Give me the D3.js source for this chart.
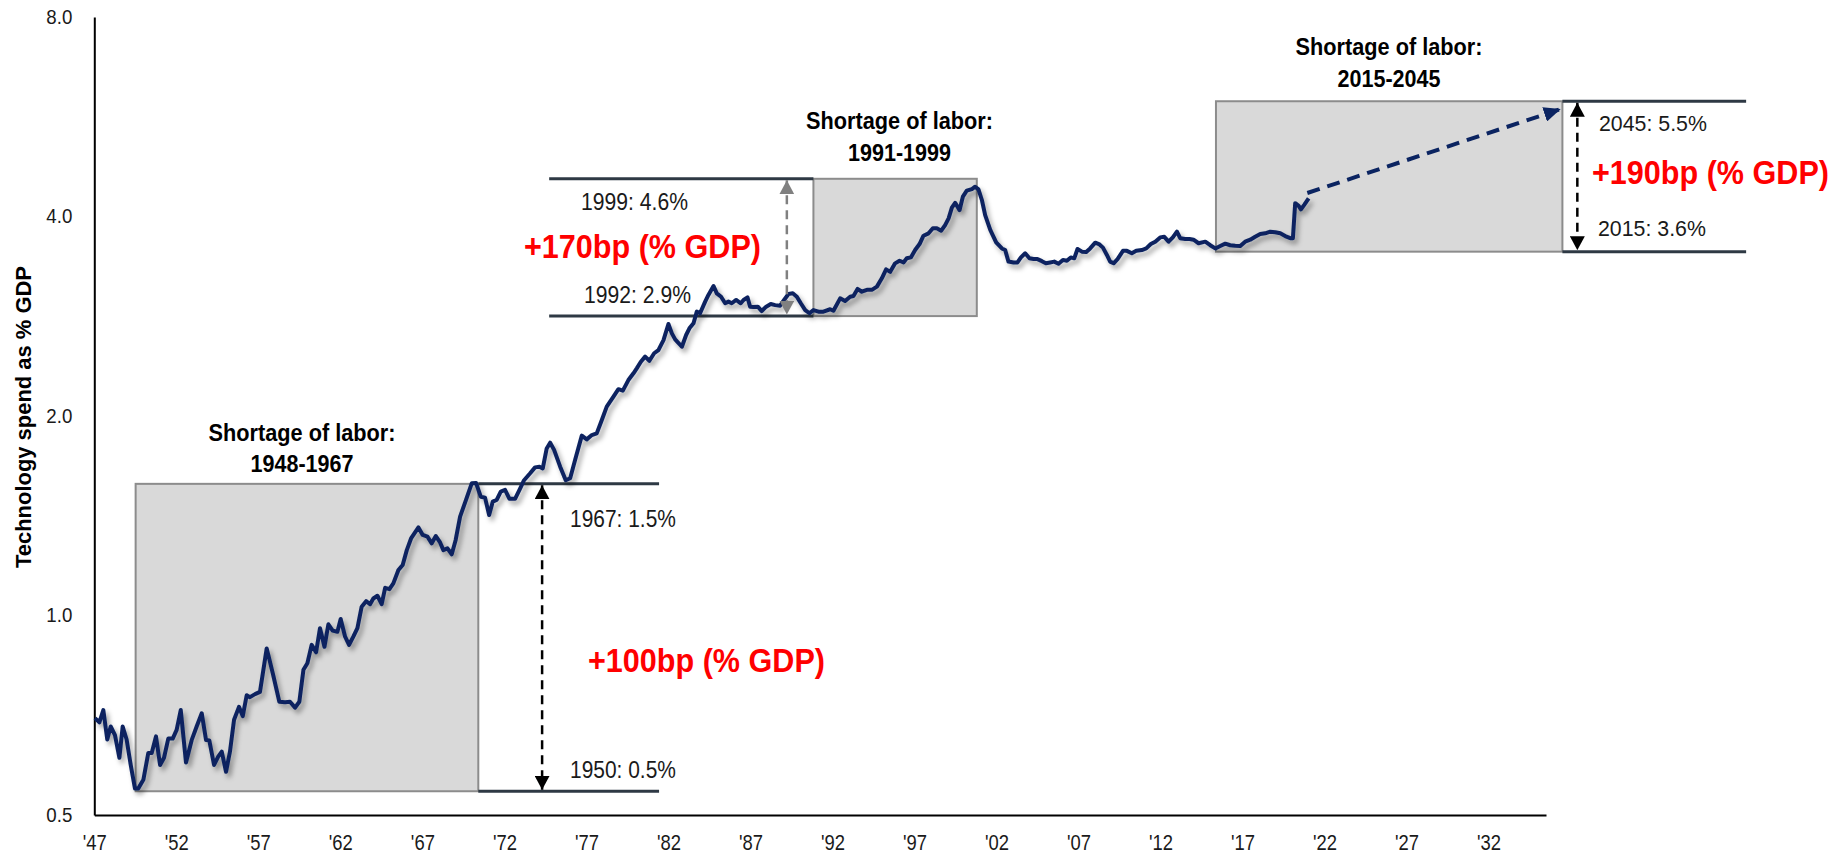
<!DOCTYPE html>
<html><head><meta charset="utf-8">
<script src="https://cdn.jsdelivr.net/npm/d3@7"></script>
<style>
html,body{margin:0;padding:0;background:#fff;}
svg{display:block;font-family:"Liberation Sans", Arial, sans-serif;}
</style></head><body>
<svg id="chart" width="1844" height="856"></svg>
<script>
// ---------------- DATA ----------------
const years = [
1947.04,1947.31,1947.55,1947.79,1948.00,1948.26,1948.53,1948.73,1948.97,1949.22,1949.48,1949.68,1949.99,
1950.29,1950.50,1950.76,1951.01,1951.25,1951.51,1951.78,1952.02,1952.27,1952.59,1952.94,1953.24,1953.55,
1953.81,1954.01,1954.30,1954.56,1954.77,1955.03,1955.27,1955.52,1955.82,1956.05,1956.29,1956.49,1956.80,
1957.10,1957.51,1957.88,1958.28,1958.63,1958.93,1959.24,1959.50,1959.75,1959.99,1960.25,1960.52,1960.76,
1961.03,1961.27,1961.53,1961.82,1962.02,1962.29,1962.53,1962.79,1963.04,1963.30,1963.57,1963.81,1964.01,
1964.26,1964.52,1964.73,1964.99,1965.23,1965.54,1965.80,1966.05,1966.31,1966.76,1967.02,1967.31,1967.57,
1967.82,1968.08,1968.28,1968.53,1968.79,1969.03,1969.30,1969.66,1970.01,1970.27,1970.56,1970.82,1971.07,
1971.29,1971.53,1971.78,1972.04,1972.31,1972.65,1972.92,1973.20,1973.57,1973.87,1974.14,1974.34,1974.58,
1974.79,1975.03,1975.40,1975.74,1976.01,1976.31,1976.72,1977.02,1977.33,1977.63,1977.94,1978.24,1978.65,
1978.95,1979.22,1979.56,1979.87,1980.07,1980.32,1980.58,1980.84,1981.13,1981.39,1981.70,1982.00,1982.21,
1982.41,1982.82,1983.08,1983.28,1983.53,1983.73,1983.93,1984.24,1984.44,1984.75,1984.95,1985.21,1985.46,
1985.66,1985.86,1986.13,1986.41,1986.58,1986.82,1986.98,1987.18,1987.45,1987.69,1987.96,1988.24,1988.51,
1988.81,1989.05,1989.32,1989.58,1989.83,1990.07,1990.34,1990.60,1990.84,1991.15,1991.45,1991.86,1992.06,
1992.47,1992.77,1993.08,1993.28,1993.53,1993.79,1994.10,1994.40,1994.71,1995.01,1995.27,1995.52,1995.82,
1996.09,1996.33,1996.53,1996.78,1997.04,1997.31,1997.55,1997.86,1998.12,1998.36,1998.63,1998.87,1999.08,
1999.28,1999.48,1999.75,1999.95,2000.19,2000.50,2000.70,2000.90,2001.11,2001.31,2001.62,2001.98,2002.33,
2002.53,2002.73,2003.04,2003.28,2003.49,2003.75,2004.01,2004.26,2004.50,2004.77,2005.01,2005.27,2005.52,
2005.78,2006.05,2006.29,2006.53,2006.74,2006.94,2007.21,2007.47,2007.71,2008.02,2008.28,2008.49,2008.73,
2008.93,2009.14,2009.38,2009.71,2009.95,2010.25,2010.52,2010.86,2011.13,2011.41,2011.68,2011.98,2012.23,
2012.49,2012.75,2013.00,2013.20,2013.51,2013.77,2014.01,2014.32,2014.73,2015.03,2015.34,2015.64,2015.95,
2016.25,2016.55,2016.86,2017.16,2017.47,2017.77,2018.08,2018.38,2018.69,2018.99,2019.30,2019.60,2019.91,
2020.07,2020.21,2020.42,2020.56,2020.76,2021.03
];
const values = [
0.70,0.69,0.72,0.65,0.68,0.66,0.61,0.68,0.65,0.595,0.548,0.548,0.565,
0.62,0.62,0.657,0.595,0.61,0.652,0.652,0.672,0.72,0.60,0.649,0.68,0.712,
0.649,0.648,0.595,0.613,0.623,0.581,0.623,0.696,0.728,0.705,0.758,0.753,0.761,
0.767,0.892,0.818,0.741,0.740,0.741,0.726,0.741,0.828,0.847,0.903,0.88,0.957,
0.897,0.97,0.949,0.945,0.988,0.929,0.903,0.929,0.957,1.031,1.051,1.04,1.061,
1.071,1.04,1.101,1.096,1.118,1.171,1.192,1.255,1.307,1.358,1.323,1.315,1.285,
1.318,1.289,1.255,1.263,1.237,1.30,1.41,1.494,1.583,1.585,1.511,1.506,1.418,
1.485,1.494,1.538,1.547,1.50,1.50,1.547,1.60,1.639,1.673,1.677,1.667,1.787,
1.823,1.778,1.677,1.60,1.611,1.716,1.868,1.844,1.872,1.883,1.972,2.066,2.139,
2.195,2.184,2.266,2.32,2.36,2.415,2.458,2.423,2.487,2.515,2.604,2.753,2.665,
2.61,2.544,2.65,2.712,2.76,2.874,2.858,2.976,3.046,3.142,3.063,3.027,2.959,
2.976,2.959,2.993,2.959,2.993,3.02,2.924,2.92,2.924,2.88,2.924,2.951,2.94,
2.934,2.993,3.056,3.063,3.027,2.959,2.89,2.858,2.89,2.874,2.874,2.898,2.883,
3.01,2.982,3.027,3.035,3.11,3.08,3.10,3.10,3.135,3.227,3.329,3.30,3.399,
3.43,3.41,3.459,3.47,3.56,3.635,3.742,3.773,3.839,3.839,3.807,3.883,3.975,
4.124,4.195,4.09,4.285,4.376,4.40,4.436,4.395,4.236,4.02,3.817,3.657,3.58,
3.56,3.42,3.41,3.41,3.47,3.52,3.459,3.45,3.45,3.425,3.40,3.41,3.42,
3.395,3.44,3.43,3.47,3.459,3.573,3.54,3.535,3.58,3.652,3.63,3.59,3.50,
3.42,3.40,3.45,3.55,3.55,3.52,3.55,3.56,3.58,3.635,3.665,3.72,3.727,
3.665,3.72,3.795,3.71,3.70,3.70,3.69,3.645,3.665,3.62,3.58,3.61,3.64,
3.62,3.613,3.61,3.665,3.69,3.727,3.763,3.773,3.795,3.787,3.773,3.737,3.71,
3.71,4.19,4.15,4.10,4.165,4.26
];
const projYears = [2020.95, 2036.4];
const projValues = [4.34, 5.81];
const xTickYears = [1947,1952,1957,1962,1967,1972,1977,1982,1987,1992,1997,2002,2007,2012,2017,2022,2027,2032];
const yTickValues = [0.5, 1, 2, 4, 8];
const yTickLabels = ["0.5", "1.0", "2.0", "4.0", "8.0"];

// shortage-of-labor periods (x in years, y in % GDP)
const boxes = [
  {x0: 1949.52, x1: 1970.41, v0: 0.543, v1: 1.58, title: "1948-1967"},
  {x0: 1990.84, x1: 2000.80, v0: 2.83, v1: 4.56, title: "1991-1999"},
  {x0: 2015.38, x1: 2036.5, v0: 3.54, v1: 5.97, title: "2015-2045"}
];
const brackets = [
  {x0: 1970.41, x1: 1981.43, v0: 0.543, v1: 1.58, ax: 1974.30, color: "#000"},
  {x0: 1974.73, x1: 1990.84, v0: 2.83, v1: 4.56, ax: 1989.22, color: "#808080"},
  {x0: 2036.5, x1: 2047.7, v0: 3.54, v1: 5.97, ax: 2037.41, color: "#000"}
];

// ---------------- CHART ----------------
const svg = d3.select("#chart");
const x = d3.scaleLinear().domain([1947, 2035.5]).range([94.3, 1546]);
const y = d3.scaleLog().domain([0.5, 8]).range([815, 17]);

const defs = svg.append("defs");
const f = defs.append("filter").attr("id","shadow").attr("x","-5%").attr("y","-5%").attr("width","110%").attr("height","115%");
f.append("feDropShadow").attr("dx",3).attr("dy",4).attr("stdDeviation",2.5)
  .attr("flood-color","#000").attr("flood-opacity",0.35);

function marker(id, color, len, wid) {
  defs.append("marker").attr("id", id)
    .attr("viewBox", `0 0 ${len} ${wid}`).attr("refX", len).attr("refY", wid/2)
    .attr("markerWidth", len).attr("markerHeight", wid)
    .attr("markerUnits","userSpaceOnUse").attr("orient","auto-start-reverse")
    .append("path").attr("d", `M0,0L${len},${wid/2}L0,${wid}Z`).attr("fill", color);
}
marker("arBlack", "#000", 14, 15);
marker("arGrey", "#808080", 14, 15);
marker("arNavy", "#0b2461", 17, 15);

// boxes
svg.append("g").selectAll("rect").data(boxes).join("rect")
  .attr("x", d => x(d.x0)).attr("y", d => y(d.v1))
  .attr("width", d => x(d.x1) - x(d.x0)).attr("height", d => y(d.v0) - y(d.v1))
  .attr("fill", "#d9d9d9").attr("stroke", "#8c8c8c").attr("stroke-width", 2);

// bracket lines
brackets.forEach(b => {
  [b.v0, b.v1].forEach(v => {
    svg.append("line").attr("x1", x(b.x0)).attr("x2", x(b.x1))
      .attr("y1", y(v)).attr("y2", y(v))
      .attr("stroke", "#2e3944").attr("stroke-width", 3);
  });
});

// axes
const yAxis = svg.append("g").attr("transform", "translate(94.3,0)")
  .call(d3.axisLeft(y).tickValues(yTickValues).tickFormat((d,i) => yTickLabels[i]).tickSize(0).tickSizeOuter(0).tickPadding(22));
yAxis.select(".domain").attr("stroke", "#000").attr("stroke-width", 2);
yAxis.selectAll("text").attr("font-size", 20).attr("fill", "#1a1a1a")
  .attr("font-family", '"Liberation Sans", Arial, sans-serif')
  .attr("textLength", 26).attr("lengthAdjust", "spacingAndGlyphs");

const xAxis = svg.append("g").attr("transform", "translate(0,815)")
  .call(d3.axisBottom(x).tickValues(xTickYears).tickFormat(d => "'" + String(d % 100).padStart(2, "0")).tickSize(0).tickSizeOuter(0));
xAxis.select(".domain").attr("stroke", "#000").attr("stroke-width", 2);
xAxis.selectAll("text").attr("y", 35).attr("dy", 0).attr("font-size", 22).attr("fill", "#1a1a1a")
  .attr("font-family", '"Liberation Sans", Arial, sans-serif')
  .attr("textLength", 24).attr("lengthAdjust", "spacingAndGlyphs");

svg.append("text").attr("transform", "translate(31,417) rotate(-90)")
  .attr("text-anchor", "middle").attr("font-size", 22).attr("font-weight", "bold")
  .attr("fill", "#000").attr("textLength", 302).attr("lengthAdjust", "spacingAndGlyphs")
  .text("Technology spend as % GDP");

// data line
const pts = years.map((yr, i) => ({year: yr, value: values[i]}));
const line = d3.line().x(d => x(d.year)).y(d => y(d.value));
svg.append("path").datum(pts).attr("d", line)
  .attr("fill", "none").attr("stroke", "#0b2461").attr("stroke-width", 4)
  .attr("stroke-linejoin", "round").attr("filter", "url(#shadow)");

// projection
const proj = projYears.map((yr, i) => ({year: yr, value: projValues[i]}));
svg.append("path").datum(proj).attr("d", line)
  .attr("fill", "none").attr("stroke", "#0b2461").attr("stroke-width", 4)
  .attr("stroke-dasharray", "13,8").attr("marker-end", "url(#arNavy)");

// bracket arrows
brackets.forEach(b => {
  const grey = b.color !== "#000";
  svg.append("line").attr("x1", x(b.ax)).attr("x2", x(b.ax))
    .attr("y1", y(b.v1) + 1.5).attr("y2", y(b.v0) - 1.5)
    .attr("stroke", b.color).attr("stroke-width", 2.5).attr("stroke-dasharray", "9,6")
    .attr("marker-start", grey ? "url(#arGrey)" : "url(#arBlack)")
    .attr("marker-end", grey ? "url(#arGrey)" : "url(#arBlack)");
});

// texts: drawn at natural size, then squeezed horizontally to the measured width
function label(txt, px, py, size, weight, color, w, anchor) {
  const t = svg.append("text").attr("x", 0).attr("y", 0).text(txt)
    .attr("font-size", size).attr("font-weight", weight).attr("fill", color)
    .attr("text-anchor", anchor || "start");
  const natural = t.node().getComputedTextLength();
  const s = natural > 0 ? w / natural : 1;
  t.attr("transform", `translate(${px},${py}) scale(${s},1)`);
}
// section titles
const titles = [
  {cx: 302, b1: 441, b2: 472, t: "1948-1967"},
  {cx: 899.5, b1: 129, b2: 161, t: "1991-1999"},
  {cx: 1389, b1: 55, b2: 87, t: "2015-2045"}
];
titles.forEach(t => {
  label("Shortage of labor:", t.cx, t.b1, 24, "bold", "#000", 187, "middle");
  label(t.t, t.cx, t.b2, 24, "bold", "#000", 103, "middle");
});
label("1967: 1.5%", 570, 527, 23, "normal", "#1a1a1a", 106);
label("1950: 0.5%", 570, 778, 23, "normal", "#1a1a1a", 106);
label("+100bp (% GDP)", 588, 672, 34, "bold", "#ff0000", 237);
label("1999: 4.6%", 581, 210, 23, "normal", "#1a1a1a", 107);
label("1992: 2.9%", 584, 303, 23, "normal", "#1a1a1a", 107);
label("+170bp (% GDP)", 524, 258, 34, "bold", "#ff0000", 237);
label("2045: 5.5%", 1599, 131, 23, "normal", "#1a1a1a", 108);
label("2015: 3.6%", 1598, 236, 23, "normal", "#1a1a1a", 108);
label("+190bp (% GDP)", 1592, 184, 34, "bold", "#ff0000", 237);
</script>
</body></html>
